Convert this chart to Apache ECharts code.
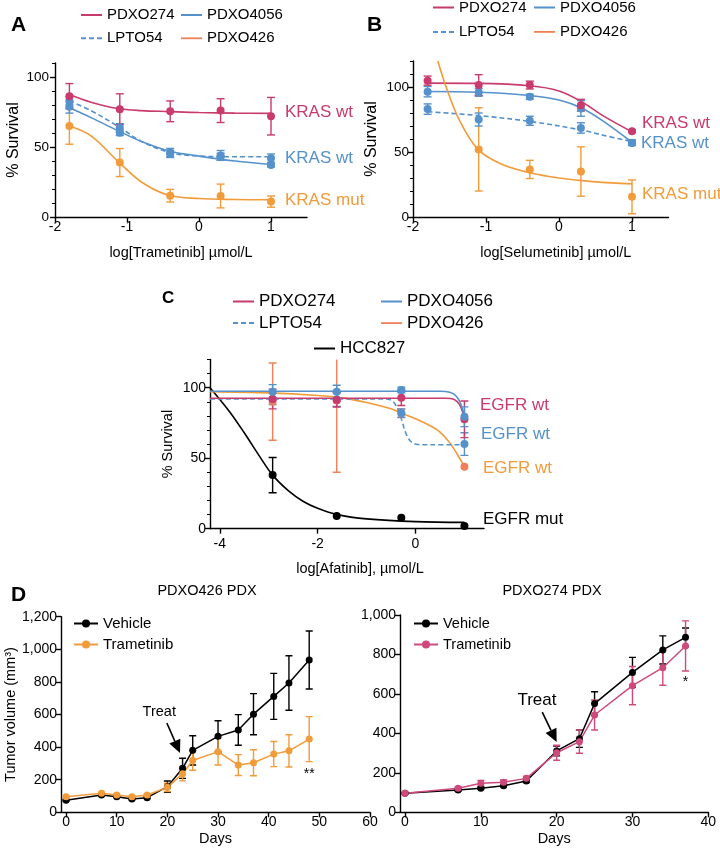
<!DOCTYPE html>
<html>
<head>
<meta charset="utf-8">
<script src="https://cdn.jsdelivr.net/npm/echarts@6/dist/echarts.min.js"></script>
<style>
  html, body { margin: 0; padding: 0; background: #fff; }
  #chart { width: 720px; height: 855px; }
</style>
</head>
<body>
<div id="chart"></div>
<script>
const FONT = "'Liberation Sans', Arial, Helvetica, sans-serif"
const MAG = '#C93A6D'
const MAG_D = '#CF4A7C'
const BLUE = '#5591CB'
const ORANGE = '#F29B3A'
const SALMON = '#F0805A'
const BLACK = '#000000'

// ---- A: trametinib (log µmol/L) ----
const doseA = [-1.8, -1.1, -0.4, 0.3, 1.0]
const a274 = [86.3, 77, 75.5, 76, 72]
const a274Err = [9, 11, 7.4, 8.5, 13.4]
const a4056 = [78.7, 60.2, 45, 43, 37.2]
const a4056Err = [4.5, 2, 2.5, 2.5, 1.5]
const aLpto = [82.5, 63.7, 46, 44, 42]
const aLptoErr = [2.5, 3, 3, 3.5, 3]
const a426 = [65, 38.9, 15.2, 15, 11]
const a426Err = [13, 10, 4.5, 8.5, 4]
// fitted curves
const a274Fit = [[-1.8, 87.5], [-1.5, 82], [-1.13, 77.5], [-0.8, 76], [-0.42, 75.3], [0, 74.6], [0.5, 74.2], [1, 74]]
const a4056Fit = [[-1.8, 78], [-1.5, 71], [-1.1, 61], [-0.8, 54], [-0.4, 47], [0, 43.5], [0.5, 40], [1, 37.5]]
const aLptoFit = [[-1.8, 83], [-1.5, 76], [-1.1, 64], [-0.8, 54], [-0.4, 46], [0, 43.5], [0.5, 43], [1, 43]]
const a426Fit = [[-1.8, 65], [-1.5, 58], [-1.13, 40], [-0.8, 25], [-0.42, 15.5], [0, 13.2], [0.5, 12.5], [1, 12.3]]

// ---- B: selumetinib ----
const doseB = [-1.8, -1.1, -0.4, 0.3, 1.0]
const b274 = [104.9, 101.5, 101.5, 86, 66]
const b274Err = [3.5, 8, 3, 4.5, 1]
const b4056 = [96.4, 95.9, 92.5, 83.5, 57.2]
const b4056Err = [4, 3, 2, 6, 2]
const bLpto = [83, 75, 74, 68.5, 57]
const bLptoErr = [4, 5, 3.5, 4, 2]
const b426 = [null, 52, 36.6, 35, 15.5]
const b426Err = [null, 32, 7, 19, 13]
const b274Fit = [[-1.8, 103], [-1.1, 102.8], [-0.4, 101], [0, 97], [0.3, 89], [0.6, 78], [1, 65.5]]
const b4056Fit = [[-1.8, 96.5], [-1.1, 96], [-0.4, 93.5], [0, 90], [0.3, 84], [0.6, 74], [1, 57.5]]
const bLptoFit = [[-1.8, 81], [-1.1, 78], [-0.4, 73.5], [0.3, 67], [0.6, 63], [1, 58]]
const b426Fit = [[-1.66, 120], [-1.54, 99], [-1.36, 74], [-1.11, 52], [-0.8, 41], [-0.4, 34], [0, 30], [0.5, 27], [1, 25.5]]

// ---- C: afatinib ----
const doseC = [-2.92, -1.61, -0.29, 1.0]
const c274 = [92, 91.3, 92.9, 77.6]
const c274Err = [7, 5, 5.5, 13]
const c4056 = [97.2, 97.2, 98.4, 79.4]
const c4056Err = [5, 4.5, 2, 7]
const cLpto = [92, 91.7, 82, 60]
const cLptoErr = [4, 5, 3, 8]
const c426 = [90.1, 91, 81.8, 44]
const c426Err = [27.4, 51, 3, 0]
const cHcc = [38, 9, 7.8, 1.9]
const cHccErr = [12.5, 0, 0, 0]
const c274Fit = [[-4.2, 92.5], [0.6, 92.5], [0.8, 91.5], [0.9, 88], [0.97, 82], [1, 77.6]]
const c4056Fit = [[-4.2, 97.5], [0.5, 97.5], [0.7, 96.8], [0.82, 94.5], [0.92, 89], [1, 79.4]]
const cLptoFit = [[-4.2, 92], [-0.6, 92], [-0.47, 90.5], [-0.38, 86], [-0.29, 78], [-0.2, 68], [-0.1, 62], [0.05, 59.7], [0.3, 59.5], [1, 59.5]]
const c426Fit = [[-4.2, 97.2], [-3, 96.3], [-2, 94.5], [-1.5, 92.8], [-1, 89.5], [-0.5, 85], [-0.29, 82], [0, 78], [0.3, 73], [0.5, 68.5], [0.7, 61], [0.85, 53], [1, 44]]
const cHccFit = [[-4.2, 100], [-3.8, 83], [-3.5, 68], [-3.2, 52], [-2.92, 38], [-2.6, 27], [-2.3, 19.5], [-2, 14.5], [-1.6, 10], [-1, 7], [0, 5], [1, 4.5]]

// ---- D: tumour volume (mm3) ----
const daysL = [0, 7, 10, 13, 16, 20, 23, 25, 30, 34, 37, 41, 44, 48]
const vehL = [74, 106, 96, 82, 90, 157, 270, 380, 466, 505, 602, 711, 793, 934]
const vehLErr = [5, 6, 6, 5, 6, 35, 62, 90, 96, 94, 126, 141, 167, 178]
const tramL = [96, 117, 106, 96, 106, 153, 237, 318, 372, 290, 304, 357, 377, 449]
const tramLErr = [5, 6, 6, 5, 6, 25, 44, 60, 82, 64, 80, 77, 99, 138]
const daysR = [0, 7, 10, 13, 16, 20, 23, 25, 30, 34, 37]
const vehR = [96, 113, 122, 135, 159, 311, 373, 551, 709, 823, 887]
const vehRErr = [4, 6, 6, 6, 8, 25, 44, 60, 76, 71, 47]
const tramR = [96, 122, 147, 152, 172, 302, 358, 493, 642, 733, 843]
const tramRErr = [4, 8, 15, 12, 10, 38, 59, 76, 97, 89, 127]

const ticksLog = [-2, -1, 0, 1]
const ticksAfa = [-4, -2, 0]
const ticksSurv = [0, 50, 100]
const ticksDaysL = [0, 10, 20, 30, 40, 50, 60]
const ticksDaysR = [0, 10, 20, 30, 40]

// ---------- builders ----------
const axisLine = { show: true, onZero: false, lineStyle: { color: BLACK, width: 1.4 } }
const axisTick = { show: true, length: 5, lineStyle: { color: BLACK, width: 1.4 } }

function xAx(grid, min, max, ticks, name, nameGap, margin, pad) {
  return {
    type: 'value', gridIndex: grid, min, max,
    axisLine, axisTick: { ...axisTick, customValues: ticks },
    axisLabel: { customValues: ticks, color: BLACK, fontSize: 14, fontFamily: FONT, margin },
    splitLine: { show: false },
    name, nameLocation: 'middle', nameGap,
    nameTextStyle: { color: BLACK, fontSize: 14.5, fontFamily: FONT, padding: [0, 0, 0, pad || 0] }
  }
}

function yAx(grid, min, max, opts) {
  const ax = {
    type: 'value', gridIndex: grid, min, max, position: 'left',
    axisLine, axisTick: { ...axisTick },
    axisLabel: { color: BLACK, fontSize: opts.fontSize || 14, fontFamily: FONT, margin: opts.margin },
    splitLine: { show: false },
    name: opts.name || '', nameLocation: 'middle', nameGap: opts.nameGap,
    nameTextStyle: { color: BLACK, fontSize: opts.nameSize || 16, fontFamily: FONT }
  }
  if (opts.ticks) {
    ax.axisTick.customValues = opts.ticks
    ax.axisLabel.customValues = opts.ticks
  } else {
    ax.interval = opts.interval
  }
  if (opts.formatter) ax.axisLabel.formatter = opts.formatter
  return ax
}

// short minor ticks every 10 %
function yMinor(grid, max) {
  return {
    type: 'value', gridIndex: grid, min: 0, max, interval: 10, position: 'left',
    axisLine: { show: false, onZero: false },
    axisTick: { show: true, length: 3, lineStyle: { color: BLACK, width: 1 } },
    axisLabel: { show: false }, splitLine: { show: false }
  }
}

function curve(name, g, pts, color, dashed) {
  return {
    type: 'line', name, xAxisIndex: g, yAxisIndex: g, data: pts,
    smooth: 0.35, symbol: 'none', clip: true, silent: true, z: 2,
    itemStyle: { color },
    lineStyle: { color, width: 1.6, type: dashed ? [5, 3] : 'solid' }
  }
}

function dots(g, xs, ys, color, size) {
  const data = xs.map((x, i) => [x, ys[i]]).filter(d => d[1] != null)
  return {
    type: 'scatter', xAxisIndex: g, yAxisIndex: g, data, symbolSize: size || 8,
    itemStyle: { color, opacity: 1 }, z: 4, silent: true
  }
}

function errs(g, xs, ys, es, color, capW) {
  const data = []
  xs.forEach((x, i) => {
    if (ys[i] != null && es[i]) data.push([x, ys[i] - es[i], ys[i] + es[i]])
  })
  const w = (capW || 8) / 2
  return {
    type: 'custom', xAxisIndex: g, yAxisIndex: g, clip: true, silent: true, z: 3,
    encode: { x: 0, y: [1, 2] },
    data,
    renderItem(params, api) {
      const lo = api.coord([api.value(0), api.value(1)])
      const hi = api.coord([api.value(0), api.value(2)])
      const style = { stroke: color, lineWidth: 1.4, fill: null }
      return {
        type: 'group',
        children: [
          { type: 'line', shape: { x1: lo[0], y1: lo[1], x2: hi[0], y2: hi[1] }, style },
          { type: 'line', shape: { x1: lo[0] - w, y1: lo[1], x2: lo[0] + w, y2: lo[1] }, style },
          { type: 'line', shape: { x1: hi[0] - w, y1: hi[1], x2: hi[0] + w, y2: hi[1] }, style }
        ]
      }
    }
  }
}

function growth(name, g, xs, ys, color) {
  return {
    type: 'line', name, xAxisIndex: g, yAxisIndex: g,
    data: xs.map((x, i) => [x, ys[i]]),
    symbol: 'circle', symbolSize: 7, showAllSymbol: true, silent: true, z: 4,
    lineStyle: { color, width: 1.5 }, itemStyle: { color }
  }
}

// one legend column; curve legends show the line only (symbol hidden)
function legendCol(left, top, names, fontSize, gap, over, lineOnly) {
  return {
    left, top, orient: 'vertical', padding: 0, itemGap: gap,
    itemWidth: 21, itemHeight: 14, selectedMode: false,
    textStyle: { fontSize, fontFamily: FONT, color: BLACK, lineHeight: fontSize },
    data: names.map(n => {
      const item = { name: n }
      if (lineOnly) item.itemStyle = { opacity: 0 }
      if (over && over[n]) Object.assign(item, over[n])
      return item
    })
  }
}

const salmonIcon = { PDXO426: { lineStyle: { color: SALMON, width: 1.8 }, itemStyle: { opacity: 0 } } }
const thousands = v => v.toLocaleString('en-US')

const option = {
  animation: false,
  backgroundColor: '#fff',
  textStyle: { fontFamily: FONT },
  grid: [
    { left: 55, top: 63, width: 252, height: 154 },
    { left: 413, top: 61, width: 255.5, height: 156 },
    { left: 210, top: 359.5, width: 274, height: 169.2 },
    { left: 61, top: 616.7, width: 309, height: 195.6 },
    { left: 400, top: 615, width: 308.3, height: 197.3 }
  ],
  xAxis: [
    xAx(0, -2, 1.5, ticksLog, 'log[Trametinib] µmol/L', 28, 3),
    xAx(1, -2, 1.5, ticksLog, 'log[Selumetinib] µmol/L', 28, 3, 30),
    xAx(2, -4.2, 1.4, ticksAfa, 'log[Afatinib], µmol/L', 33, 8, 26),
    xAx(3, -1, 60, ticksDaysL, 'Days', 19, 3),
    xAx(4, -0.66, 40, ticksDaysR, 'Days', 19, 3)
  ],
  yAxis: [
    yAx(0, 0, 110, { ticks: ticksSurv, margin: 6, fontSize: 13.5, name: '% Survival', nameGap: 33 }),
    yAx(1, 0, 120, { ticks: ticksSurv, margin: 4, fontSize: 13.5, name: '% Survival', nameGap: 33 }),
    yAx(2, 0, 120, { ticks: ticksSurv, margin: 4, fontSize: 14, name: '% Survival', nameGap: 35, nameSize: 14.5 }),
    yAx(3, 0, 1200, { interval: 200, margin: 4, formatter: thousands, name: 'Tumor volume (mm³)', nameGap: 42, nameSize: 14.5 }),
    yAx(4, 0, 1000, { interval: 200, margin: 4, formatter: thousands }),
    yMinor(0, 110),
    yMinor(1, 120),
    yMinor(2, 120)
  ],
  legend: [
    legendCol(80, 7.5, ['PDXO274', 'LPTO54'], 15, 8.3, salmonIcon, true),
    legendCol(180, 7.5, ['PDXO4056', 'PDXO426'], 15, 8.3, salmonIcon, true),
    legendCol(432, 0, ['PDXO274', 'LPTO54'], 15, 9.4, salmonIcon, true),
    legendCol(533, 0, ['PDXO4056', 'PDXO426'], 15, 9.4, salmonIcon, true),
    legendCol(232, 293, ['PDXO274', 'LPTO54'], 17, 4.6, salmonIcon, true),
    legendCol(380, 293, ['PDXO4056', 'PDXO426'], 17, 4.6, salmonIcon, true),
    legendCol(313, 340, ['HCC827'], 17, 4.6, null, true),
    Object.assign(legendCol(73, 616, ['Vehicle', 'Trametinib'], 15, 6), { itemWidth: 24, itemHeight: 10 }),
    Object.assign(legendCol(413, 616, ['Vehicle', 'Trametinib'], 14.5, 6,
      { Trametinib: { lineStyle: { color: MAG_D }, itemStyle: { color: MAG_D } } }), { itemWidth: 24, itemHeight: 10 })
  ],
  series: [
    // A
    curve('PDXO274', 0, a274Fit, MAG),
    curve('PDXO4056', 0, a4056Fit, BLUE),
    curve('LPTO54', 0, aLptoFit, BLUE, true),
    curve('PDXO426', 0, a426Fit, ORANGE),
    errs(0, doseA, a426, a426Err, ORANGE),
    errs(0, doseA, aLpto, aLptoErr, BLUE),
    errs(0, doseA, a4056, a4056Err, BLUE),
    errs(0, doseA, a274, a274Err, MAG),
    dots(0, doseA, a426, ORANGE),
    dots(0, doseA, aLpto, BLUE),
    dots(0, doseA, a4056, BLUE),
    dots(0, doseA, a274, MAG),
    // B
    curve('PDXO274', 1, b274Fit, MAG),
    curve('PDXO4056', 1, b4056Fit, BLUE),
    curve('LPTO54', 1, bLptoFit, BLUE, true),
    curve('PDXO426', 1, b426Fit, ORANGE),
    errs(1, doseB, b426, b426Err, ORANGE),
    errs(1, doseB, bLpto, bLptoErr, BLUE),
    errs(1, doseB, b4056, b4056Err, BLUE),
    errs(1, doseB, b274, b274Err, MAG),
    dots(1, doseB, b426, ORANGE),
    dots(1, doseB, bLpto, BLUE),
    dots(1, doseB, b4056, BLUE),
    dots(1, doseB, b274, MAG),
    // C
    curve('HCC827', 2, cHccFit, BLACK),
    curve('PDXO426', 2, c426Fit, ORANGE),
    curve('LPTO54', 2, cLptoFit, BLUE, true),
    curve('PDXO274', 2, c274Fit, MAG),
    curve('PDXO4056', 2, c4056Fit, BLUE),
    errs(2, doseC, cHcc, cHccErr, BLACK),
    errs(2, doseC, c426, c426Err, SALMON),
    errs(2, doseC, cLpto, cLptoErr, BLUE),
    errs(2, doseC, c274, c274Err, MAG),
    errs(2, doseC, c4056, c4056Err, BLUE),
    dots(2, doseC, cHcc, BLACK),
    dots(2, doseC, c426, SALMON),
    dots(2, doseC, cLpto, BLUE),
    dots(2, doseC, c274, MAG),
    dots(2, doseC, c4056, BLUE),
    // D left
    growth('Vehicle', 3, daysL, vehL, BLACK),
    growth('Trametinib', 3, daysL, tramL, ORANGE),
    errs(3, daysL, vehL, vehLErr, BLACK, 7),
    errs(3, daysL, tramL, tramLErr, ORANGE, 7),
    // D right
    growth('Vehicle', 4, daysR, vehR, BLACK),
    growth('Trametinib', 4, daysR, tramR, MAG_D),
    errs(4, daysR, vehR, vehRErr, BLACK, 7),
    errs(4, daysR, tramR, tramRErr, MAG_D, 7)
  ]
}

const chart = echarts.init(document.getElementById('chart'), null, { renderer: 'canvas' })
chart.setOption(option)

// ---------- annotations ----------
function txt(x, y, text, color, size, opts) {
  opts = opts || {}
  return {
    type: 'text', x, y, silent: true,
    style: {
      text, fill: color, align: opts.align || 'left', verticalAlign: 'middle',
      font: (opts.bold ? 'bold ' : '') + size + 'px ' + FONT
    }
  }
}

function px(grid, x, y) {
  return chart.convertToPixel({ gridIndex: grid }, [x, y])
}

function treat(grid, from, to, at, size) {
  const a = px(grid, from[0], from[1])
  const b = px(grid, to[0], to[1])
  const t = px(grid, at[0], at[1])
  const dx = b[0] - a[0], dy = b[1] - a[1]
  const len = Math.hypot(dx, dy)
  const ux = dx / len, uy = dy / len
  const head = 13, half = 6
  const bx = b[0] - ux * head, by = b[1] - uy * head
  return [
    { type: 'line', silent: true, shape: { x1: a[0], y1: a[1], x2: bx, y2: by }, style: { stroke: BLACK, lineWidth: 1.6 } },
    { type: 'polygon', silent: true, shape: { points: [[b[0], b[1]], [bx - uy * half, by + ux * half], [bx + uy * half, by - ux * half]] }, style: { fill: BLACK } },
    txt(t[0], t[1], 'Treat', BLACK, size, { align: 'center' })
  ]
}

const starL = px(3, 48, 232)
const starR = px(4, 37, 660)

const elements = [
  txt(11, 25, 'A', BLACK, 21, { bold: true }),
  txt(367, 25, 'B', BLACK, 21, { bold: true }),
  txt(162, 298, 'C', BLACK, 17, { bold: true }),
  txt(11, 595, 'D', BLACK, 21, { bold: true }),
  txt(285, 112, 'KRAS wt', MAG, 17),
  txt(285, 158, 'KRAS wt', BLUE, 17),
  txt(285, 200, 'KRAS mut', ORANGE, 17),
  txt(642, 123, 'KRAS wt', MAG, 17),
  txt(641, 143, 'KRAS wt', BLUE, 17),
  txt(642, 194, 'KRAS mut', ORANGE, 17),
  txt(480, 405, 'EGFR wt', MAG, 17),
  txt(481, 434, 'EGFR wt', BLUE, 17),
  txt(483, 468, 'EGFR wt', ORANGE, 17),
  txt(483, 519, 'EGFR mut', BLACK, 17),
  txt(207, 591, 'PDXO426 PDX', BLACK, 14.5, { align: 'center' }),
  txt(552, 591, 'PDXO274 PDX', BLACK, 14.5, { align: 'center' }),
  txt(starL[0], starL[1], '**', BLACK, 14, { align: 'center' }),
  txt(starR[0], starR[1], '*', BLACK, 14, { align: 'center' }),
  ...treat(3, [19.9, 548], [22.5, 364], [18.4, 615], 14.5),
  ...treat(4, [18.1, 508], [20.0, 356], [17.4, 570], 17)
]

chart.setOption({ graphic: { elements } })
</script>
</body>
</html>
